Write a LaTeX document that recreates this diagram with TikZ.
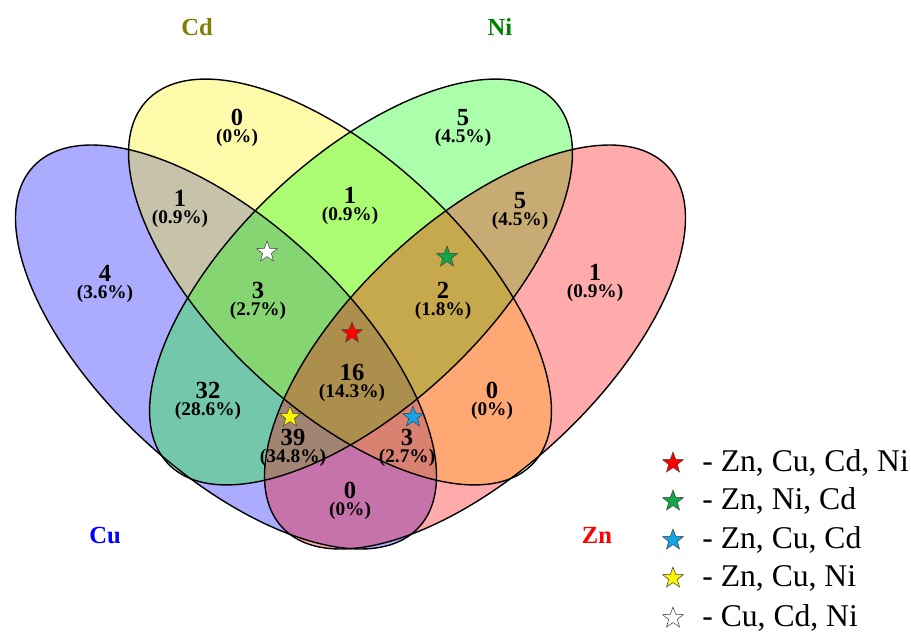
\documentclass[tikz,border=0pt]{standalone}
\usepackage{fontspec}
\setmainfont{Liberation Serif}
\usetikzlibrary{shapes.geometric}
\definecolor{cdolive}{RGB}{128,128,0}
\definecolor{nigreen}{RGB}{0,128,0}
\definecolor{stargreen}{RGB}{20,165,75}
\definecolor{starblue}{RGB}{20,165,230}
\definecolor{staryellow}{RGB}{250,245,0}
\tikzset{
 setfill/.style={fill opacity=.33},
 region/.style={align=center,inner sep=0pt,font=\fontsize{11}{10}\selectfont\bfseries},
 setname/.style={font=\fontsize{14}{14}\selectfont\bfseries},
 vstar/.style={star,star points=5,star point ratio=2.4,minimum size=.44cm,inner sep=0pt,draw=black!75,line width=.3pt,fill=#1},
 keytext/.style={font=\fontsize{18}{18}\selectfont,anchor=west,inner sep=0pt}
}

\begin{document}
\begin{tikzpicture}[x=.02cm,y=-.02cm]
 \useasboundingbox(0,0)rectangle(911,635);
 \foreach \c/\cx/\cy/\r/\ra/\rb in {blue/226/347/-43.15/264/124,yellow/340/282/-43.15/265/125,green/361/282/43.15/265/125,red/475/347/43.15/264/124}
  \fill[\c,setfill,shift={(\cx,\cy)},rotate=\r](0,0)ellipse[x radius=\ra,y radius=\rb];
 \foreach \cx/\cy/\r/\ra/\rb in {226/347/-43.15/264/124,340/282/-43.15/265/125,361/282/43.15/265/125,475/347/43.15/264/124}
  \draw[line width=.8pt,shift={(\cx,\cy)},rotate=\r](0,0)ellipse[x radius=\ra,y radius=\rb];
 \node[setname,text=cdolive](sCd)at(197,27){Cd};
 \node[setname,text=nigreen](sNi)at(500,27){Ni};
 \node[setname,text=blue](sCu)at(105,535){Cu};
 \node[setname,text=red](sZn)at(597,535){Zn};
 \foreach \n/\x/\y/\v/\p in {cd/237/117/0/0,ni/463/117/5/4.5,cucd/180/198/1/0.9,cdni/350/195/1/0.9,nizn/520/200/5/4.5,cu/105/273/4/3.6,zn/595/272/1/0.9,cucdni/258/290/3/2.7,cdnizn/443/290/2/1.8,all/352/372/16/14.3,cuni/208/390/32/28.6,cdzn/492/390/0/0,cunizn/293/437/39/34.8,cucdzn/407/437/3/2.7,cuzn/350/490/0/0}
  \node[region](r\n)at(\x,\y+11){{\fontsize{14}{10}\selectfont\v}\\(\p\%)};
 \node[vstar=red](stAll)at(352,333){};
 \node[vstar=stargreen](stNi)at(447,257){};
 \node[vstar=starblue](stCu)at(413,417){};
 \node[vstar=staryellow](stCd)at(290,417){};
 \node[vstar=white](stZn)at(267,252){};
 \foreach \i/\y/\c/\t in {1/463/red/{Zn, Cu, Cd, Ni},2/501/stargreen/{Zn, Ni, Cd},3/540/starblue/{Zn, Cu, Cd},4/578/staryellow/{Zn, Cu, Ni},5/618/white/{Cu, Cd, Ni}}{
  \node[vstar=\c](k\i)at(673,\y){};
  \node[keytext](t\i)at(702,\y){- \t};
 }
\end{tikzpicture}
\end{document}
